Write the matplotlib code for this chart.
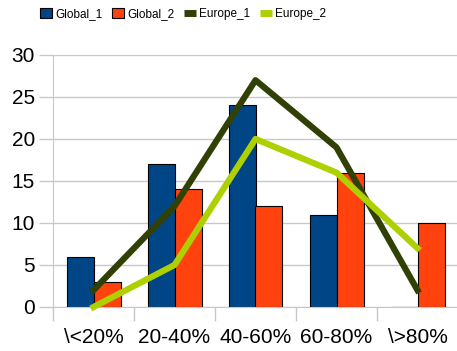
import numpy as np
import matplotlib.pyplot as plt
from matplotlib.lines import Line2D
from matplotlib.patches import Patch

plt.rcParams['font.family'] = ['Liberation Sans', 'DejaVu Sans']

categories = ['\\<20%', '20-40%', '40-60%', '60-80%', '\\>80%']
global_1 = [6, 17, 24, 11, 0]
global_2 = [3, 14, 12, 16, 10]
europe_1 = [2, 12, 27, 19, 2]
europe_2 = [0, 5, 20, 16, 7]

c_g1, c_g2 = '#004586', '#ff420e'
c_e1, c_e2 = '#314004', '#aecf00'

fig = plt.figure(figsize=(4.57, 3.51), dpi=100)
ax = fig.add_axes([53/457, 1 - 307/351, 405/457, (307 - 55)/351])

x = np.arange(len(categories))
w = 1/3
ax.bar(x - w/2, global_1, w, color=c_g1, edgecolor='black', linewidth=0.8, zorder=2)
ax.bar(x + w/2, global_2, w, color=c_g2, edgecolor='black', linewidth=0.8, zorder=2)
ax.plot(x, europe_1, color=c_e1, linewidth=4.5, zorder=3, clip_on=False)
ax.plot(x, europe_2, color=c_e2, linewidth=4.5, zorder=3, clip_on=False)

ax.set_xlim(-0.5, len(categories) - 0.5)
ax.set_ylim(0, 30)
ax.set_yticks(range(0, 31, 5))
ax.yaxis.grid(True, color='#c8c8c8', linewidth=1)
ax.set_axisbelow(True)

ax.set_xticks(x)
ax.set_xticklabels(categories)
ax.set_xticks(np.arange(-0.5, len(categories), 1), minor=True)
ax.tick_params(axis='x', which='major', length=0, pad=15, labelsize=15)
ax.tick_params(axis='x', which='minor', length=10, color='#c8c8c8', width=1)
ax.tick_params(axis='y', length=10, color='#c8c8c8', width=1, labelsize=15, pad=3)

for s in ['top', 'right']:
    ax.spines[s].set_visible(False)
ax.spines['left'].set_color('#c8c8c8')
ax.spines['bottom'].set_color('#c8c8c8')

handles = [
    Patch(facecolor=c_g1, edgecolor='black', linewidth=0.8),
    Patch(facecolor=c_g2, edgecolor='black', linewidth=0.8),
    Line2D([], [], color=c_e1, linewidth=5, solid_capstyle='butt'),
    Line2D([], [], color=c_e2, linewidth=5, solid_capstyle='butt'),
]
fig.legend(handles, ['Global_1', 'Global_2', 'Europe_1', 'Europe_2'],
           loc='center left', bbox_to_anchor=(40/457, 1 - 14/351), ncol=4,
           frameon=False, fontsize=8.5, handlelength=1.0, handleheight=0.9,
           handletextpad=0.3, columnspacing=0.8, borderpad=0, borderaxespad=0)

fig.savefig('out.png', dpi=100)
